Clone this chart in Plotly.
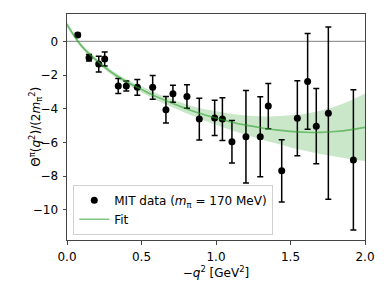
import plotly.graph_objects as go

# Data
q2 = [0.072, 0.148, 0.213, 0.253, 0.344, 0.398, 0.472, 0.575, 0.664, 0.711,
      0.805, 0.888, 0.991, 1.043, 1.107, 1.201, 1.297, 1.351, 1.441, 1.546,
      1.615, 1.673, 1.754, 1.922]
theta = [0.38, -0.97, -1.35, -1.05, -2.65, -2.65, -2.73, -2.73, -4.06, -3.11,
         -3.27, -4.61, -4.54, -4.61, -5.96, -5.66, -5.66, -3.84, -7.68, -4.56,
         -2.38, -5.03, -4.26, -7.03]
theta_err = [0.1, 0.19, 0.47, 0.42, 0.45, 0.3, 0.47, 0.71, 0.79, 0.5,
             0.7, 1.24, 1.04, 1.27, 1.26, 2.74, 2.37, 1.34, 1.84, 2.22,
             2.84, 2.23, 5.11, 4.16]

fit_x = [0.0, 0.05, 0.1, 0.2, 0.3, 0.4, 0.5, 0.6, 0.7, 0.8, 0.9, 1.0,
         1.1, 1.2, 1.3, 1.4, 1.5, 1.6, 1.7, 1.8, 1.9, 2.0]
fit_y = [1.0, 0.3, -0.3, -1.15, -1.85, -2.4, -2.85, -3.28, -3.65, -4.0, -4.3, -4.55,
         -4.78, -4.97, -5.12, -5.25, -5.34, -5.39, -5.4, -5.35, -5.25, -5.1]
fit_err = [0.15, 0.13, 0.12, 0.12, 0.13, 0.15, 0.18, 0.2, 0.23, 0.27, 0.32, 0.4,
           0.48, 0.57, 0.68, 0.8, 0.95, 1.1, 1.28, 1.48, 1.72, 2.0]

x_ticks = [0.0, 0.5, 1.0, 1.5, 2.0]
x_ticklabels = ["0.0", "0.5", "1.0", "1.5", "2.0"]
y_ticks = [0, -2, -4, -6, -8, -10]
y_ticklabels = ["0", "\u22122", "\u22124", "\u22126", "\u22128", "\u221210"]

band_hi = [y + e for y, e in zip(fit_y, fit_err)]
band_lo = [y - e for y, e in zip(fit_y, fit_err)]

fig = go.Figure()

fig.add_trace(go.Scatter(x=fit_x, y=band_hi, mode="lines", line=dict(width=0, shape="spline"),
                         showlegend=False, hoverinfo="skip", legendgroup="fit"))
fig.add_trace(go.Scatter(x=fit_x, y=band_lo, mode="lines", line=dict(width=0, shape="spline"),
                         fill="tonexty", fillcolor="rgba(44,160,44,0.25)",
                         showlegend=False, hoverinfo="skip", legendgroup="fit"))

fig.add_trace(go.Scatter(x=q2, y=theta, mode="markers",
                         marker=dict(color="black", size=7),
                         error_y=dict(type="data", array=theta_err, color="black",
                                      thickness=1.5, width=3),
                         name="MIT data (<i>m</i><sub>\u03c0</sub> = 170 MeV)"))

fig.add_trace(go.Scatter(x=fit_x, y=fit_y, mode="lines",
                         line=dict(color="rgba(44,160,44,0.6)", width=1.6, shape="spline"),
                         name="Fit", legendgroup="fit"))

fig.add_shape(type="line", xref="paper", x0=0, x1=1, yref="y", y0=0, y1=0,
              line=dict(color="grey", width=1), layer="below")

fig.add_annotation(
    text="\u0398<sup>\u03c0</sup>(<i>q</i><sup>2</sup>)/(2<i>m</i><sub>\u03c0</sub><sup>2</sup>)",
    xref="paper", yref="paper", x=-0.105, y=0.5, xanchor="center", yanchor="middle",
    textangle=-90, showarrow=False, font=dict(family="DejaVu Sans", size=12, color="black"))

axis_common = dict(showline=True, linecolor="#444", linewidth=1, mirror=True,
                   ticks="outside", ticklen=3.5, tickwidth=1, tickcolor="#444",
                   ticklabelstandoff=2,
                   showgrid=False, zeroline=False,
                   tickfont=dict(family="DejaVu Sans", size=12, color="black"))

# page body has an 8px default margin, so the figure is 8px smaller than the window
fig.update_layout(
    width=381, height=284,
    margin=dict(l=59, r=24, t=6, b=52),
    plot_bgcolor="white", paper_bgcolor="white",
    font=dict(family="DejaVu Sans", size=12, color="black"),
    xaxis=dict(range=[0, 2], tickvals=x_ticks, ticktext=x_ticklabels,
               title=dict(text="\u2212<i>q</i><sup>2</sup> [GeV<sup>2</sup>]", standoff=2,
                          font=dict(size=12, color="black")),
               **axis_common),
    yaxis=dict(range=[-11.78, 1.62], tickvals=y_ticks, ticktext=y_ticklabels,
               **axis_common),
    legend=dict(x=0.021, y=0.023, xanchor="left", yanchor="bottom",
                bgcolor="rgba(255,255,255,0.85)", bordercolor="#d0d0d0", borderwidth=1,
                font=dict(size=12, color="black"), tracegroupgap=0),
    showlegend=True,
)

fig.write_html("out.html")
